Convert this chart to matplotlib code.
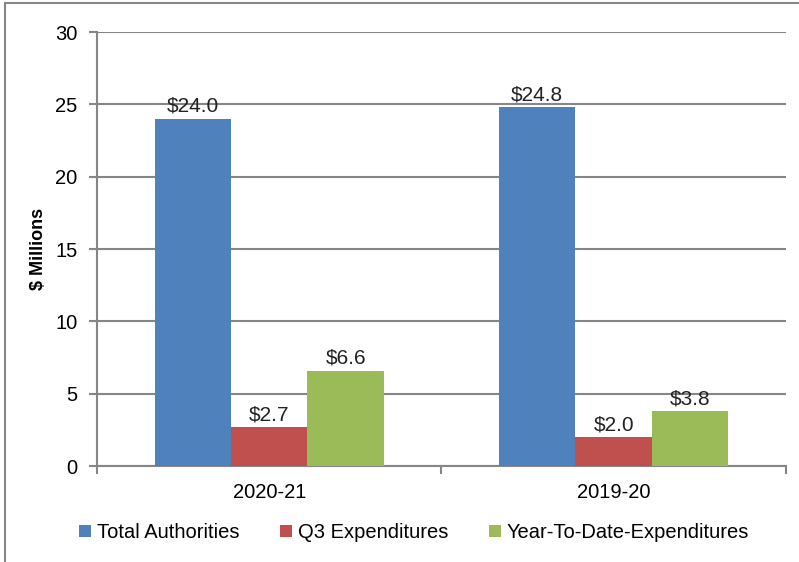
import numpy as np
import matplotlib.pyplot as plt
from matplotlib.patches import Rectangle

categories = ['2020-21', '2019-20']
series_names = ['Total Authorities', 'Q3 Expenditures', 'Year-To-Date-Expenditures']
total_auth = [24.0, 24.8]
q3_exp = [2.7, 2.0]
ytd_exp = [6.6, 3.8]
colors = ['#4F81BD', '#C0504D', '#9BBB59']

plt.rcParams['font.family'] = ['Liberation Sans', 'DejaVu Sans']

fig = plt.figure(figsize=(7.99, 5.62), dpi=100)
ax = fig.add_axes([0.1214, 0.1708, 0.8623, 0.7722])

# outer chart border
fig.patches.append(Rectangle((5 / 799, -0.1), 1.2, 1 - 3 / 562 + 0.1, transform=fig.transFigure,
                             fill=False, edgecolor='#878787', linewidth=1.5))

x = np.arange(len(categories))
w = 0.222
for i, (vals, name) in enumerate(zip([total_auth, q3_exp, ytd_exp], series_names)):
    pos = x + (i - 1) * w
    bars = ax.bar(pos, vals, width=w, color=colors[i], label=name, zorder=3)
    for b, v in zip(bars, vals):
        ax.text(b.get_x() + b.get_width() / 2, v + 0.2, f'${v:.1f}',
                ha='center', va='bottom', fontsize=15, color='#222222')

ax.set_xlim(-0.5, 1.5)
ax.set_ylim(0, 30)
ax.set_yticks(range(0, 31, 5))
ax.yaxis.grid(True, color='#868686', linewidth=1.5, zorder=0)
ax.set_axisbelow(True)

ax.set_xticks([-0.5, 0.5, 1.5])
ax.set_xticklabels([])
ax.set_xticks(x, minor=True)
ax.set_xticklabels(categories, minor=True)
ax.tick_params(axis='x', which='minor', length=0, labelsize=14.5, pad=12)
ax.tick_params(axis='x', which='major', length=6, color='#868686', width=1.5)
ax.tick_params(axis='y', length=6, color='#868686', width=1.5, labelsize=14.5, pad=8)

for s in ['top', 'right']:
    ax.spines[s].set_visible(False)
for s in ['left', 'bottom']:
    ax.spines[s].set_color('#868686')
    ax.spines[s].set_linewidth(1.5)

ax.set_ylabel('$ Millions', fontsize=13, fontweight='bold', labelpad=6)

ax.legend(loc='upper center', bbox_to_anchor=(0.46, -0.09), ncol=3, frameon=False,
          fontsize=14.5, handlelength=0.6, handleheight=0.6, handletextpad=0.3, columnspacing=2.0)

fig.savefig('out.png', dpi=100)
